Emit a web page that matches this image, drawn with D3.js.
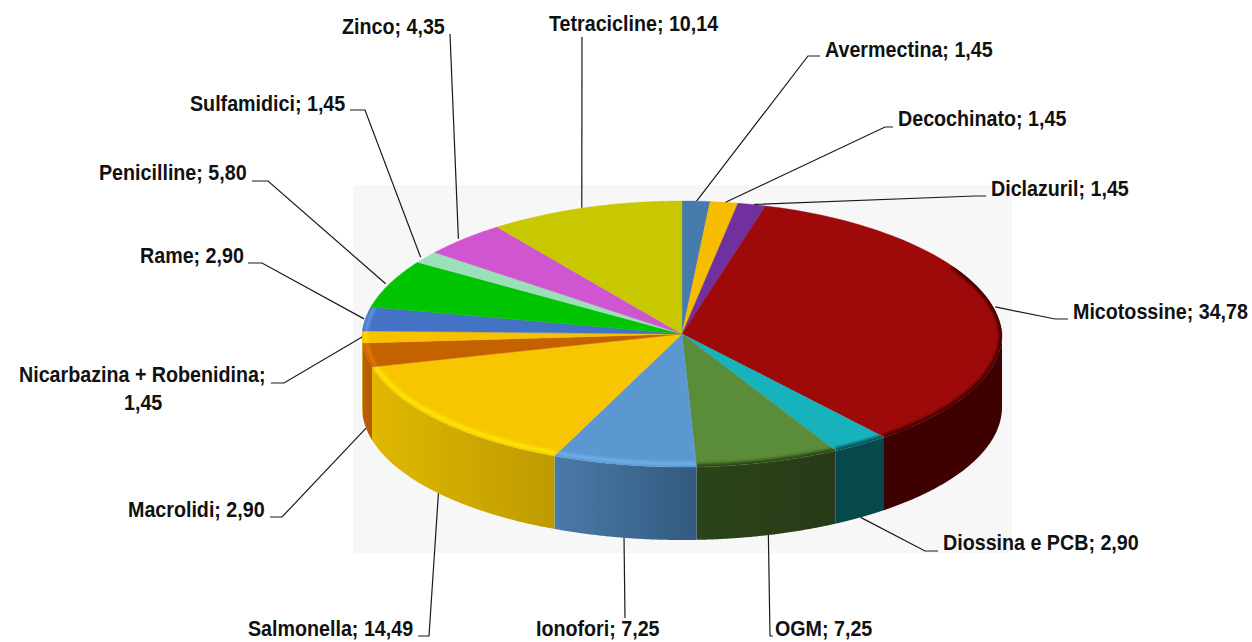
<!DOCTYPE html>
<html><head><meta charset="utf-8">
<script src="https://cdn.jsdelivr.net/npm/d3@7"></script>
<style>html,body{margin:0;padding:0;background:#fff}svg{display:block}
text{font-family:"Liberation Sans",Arial,sans-serif;font-weight:700;font-size:22.5px;fill:#111}</style>
</head><body><svg id="c" width="1252" height="642"></svg>
<script>
const categories=["Avermectina","Decochinato","Diclazuril","Micotossine","Diossina e PCB","OGM","Ionofori","Salmonella","Macrolidi","Nicarbazina + Robenidina","Rame","Penicilline","Sulfamidici","Zinco","Tetracicline"];
const values=[1.45,1.45,1.45,34.78,2.90,7.25,7.25,14.49,2.90,1.45,2.90,5.80,1.45,4.35,10.14];
const valueLabels=["1,45","1,45","1,45","34,78","2,90","7,25","7,25","14,49","2,90","1,45","2,90","5,80","1,45","4,35","10,14"];
const topColors=["#457bad","#f5bc00","#7030a0","#9e0a0a","#17b3bd","#5b8c3a","#5b97d1","#f7c600","#c46200","#f7c000","#4472c4","#00c400","#9be0b8","#cf56d0","#c8c800"];
const sideColors=[null,null,null,["#3f0000","#3f0000"],["#07484d","#07484d"],["#2b4419","#283a17"],["#4a7aa8","#335a80"],["#e0b800","#bf9a00"],["#bd5e00","#b85a00"],["#c89a00","#c89a00"],null,null,null,null,null];
const bevelColors=[null,null,null,"#3f0000","#07484d","#2b4419","#72b6ee","#fff000","#f07a00","#ffe000","#6a9ae8",null,null,null,null];
// label layout: [text x, text baseline y, elbow x, elbow y, shelf end x]
const labelLayout=[
 [825,57,808,56,820],[898,126,885,127,893],[991,196,975,196,986],[1073,319,1055,319,1068],
 [943,550,925,551,938],[775,636,770,636,773],[536,636,625,618,625],[248,636,429,636,418],
 [128,517,282,517,270],[19,382,284,383,271],[140,263,262,263,248],[99,180,268,181,252],
 [190,111,365,110,350],[342,34,450,34,450],[549,31,582,37,582]];

const cx=682,cy=334,rx=320,ry=133,depth=73,backNarrow=0.035;
const svg=d3.select("#c");
const defs=svg.append("defs");
defs.append("filter").attr("id","b").attr("filterUnits","userSpaceOnUse").attr("x",0).attr("y",0).attr("width",1252).attr("height",642)
  .append("feGaussianBlur").attr("stdDeviation",1.6);
svg.append("rect").attr("x",353).attr("y",185).attr("width",659).attr("height",368).attr("fill","#f7f7f7");

const pie=d3.pie().sort(null).value(d=>d).startAngle(0).endAngle(2*Math.PI);
const arcs=pie(values);
const px=(a,k=1)=>cx+rx*k*Math.sin(a)*(1-backNarrow*Math.max(0,Math.cos(a))), py=(a,k=1)=>cy-ry*k*Math.cos(a);
const samples=(a0,a1)=>d3.range(0,81).map(i=>a0+(a1-a0)*i/80);
const line=d3.line();
const HALF=Math.PI/2, TH=3*Math.PI/2;
const wedge=d=>line([[cx,cy]].concat(samples(d.startAngle,d.endAngle).map(a=>[px(a),py(a)])))+"Z";

const sidesG=svg.append("g");
arcs.forEach((d,i)=>{
  const a0=Math.max(d.startAngle,HALF),a1=Math.min(d.endAngle,TH);
  if(a1<=a0||!sideColors[i])return;
  const s=samples(a0,a1);
  const pts=s.map(a=>[px(a),py(a)]).concat(s.slice().reverse().map(a=>[px(a),py(a)+depth]));
  const xs=pts.map(p=>p[0]);
  const g=defs.append("linearGradient").attr("id","s"+i).attr("gradientUnits","userSpaceOnUse")
    .attr("x1",d3.max(xs)).attr("x2",d3.min(xs)).attr("y1",0).attr("y2",0);
  g.append("stop").attr("offset",0).attr("stop-color",sideColors[i][1]);
  g.append("stop").attr("offset",1).attr("stop-color",sideColors[i][0]);
  sidesG.append("path").attr("d",line(pts)+"Z").attr("fill",`url(#s${i})`);
});

const topG=svg.append("g");
arcs.forEach((d,i)=>{
  defs.append("clipPath").attr("id","c"+i).append("path").attr("d",wedge(d));
  topG.append("path").attr("d",wedge(d)).attr("fill",topColors[i]).attr("stroke",topColors[i]).attr("stroke-width",0.4);
});
arcs.forEach((d,i)=>{
  if(!bevelColors[i])return;
  const dark=i>=3&&i<=5;
  const a0=i===3?Math.PI*0.33:d.startAngle;
  const s=samples(a0,d.endAngle);
  const g=topG.append("g").attr("clip-path",`url(#c${i})`);
  g.append("path").attr("d",line(s.map(a=>dark?[px(a),py(a)]:[px(a,0.988),py(a,0.974)]))).attr("fill","none")
    .attr("stroke",bevelColors[i]).attr("stroke-width",dark?6:3).attr("filter","url(#b)");
});

const leaders=svg.append("g").attr("fill","none").attr("stroke","#1a1a1a").attr("stroke-width",1.2);
arcs.forEach((d,i)=>{
  const m=(d.startAngle+d.endAngle)/2, front=m>HALF&&m<TH-0.05;
  const L=labelLayout[i];
  const start=[cx+rx*Math.sin(m),py(m)+(front?depth:0)];
  leaders.append("path").attr("d",line([start,[L[2],L[3]],[L[4],L[3]]]));
});

const labels=svg.append("g");
const putText=(x,y,t)=>labels.append("text").attr("transform",`translate(${x},${y}) scale(0.875,1)`).text(t);
categories.forEach((c,i)=>{
  const L=labelLayout[i];
  if(i===9){
    putText(L[0],L[1],c+";");
    putText(124,L[1]+28,valueLabels[i]);
  } else putText(L[0],L[1],c+"; "+valueLabels[i]);
});
</script></body></html>
